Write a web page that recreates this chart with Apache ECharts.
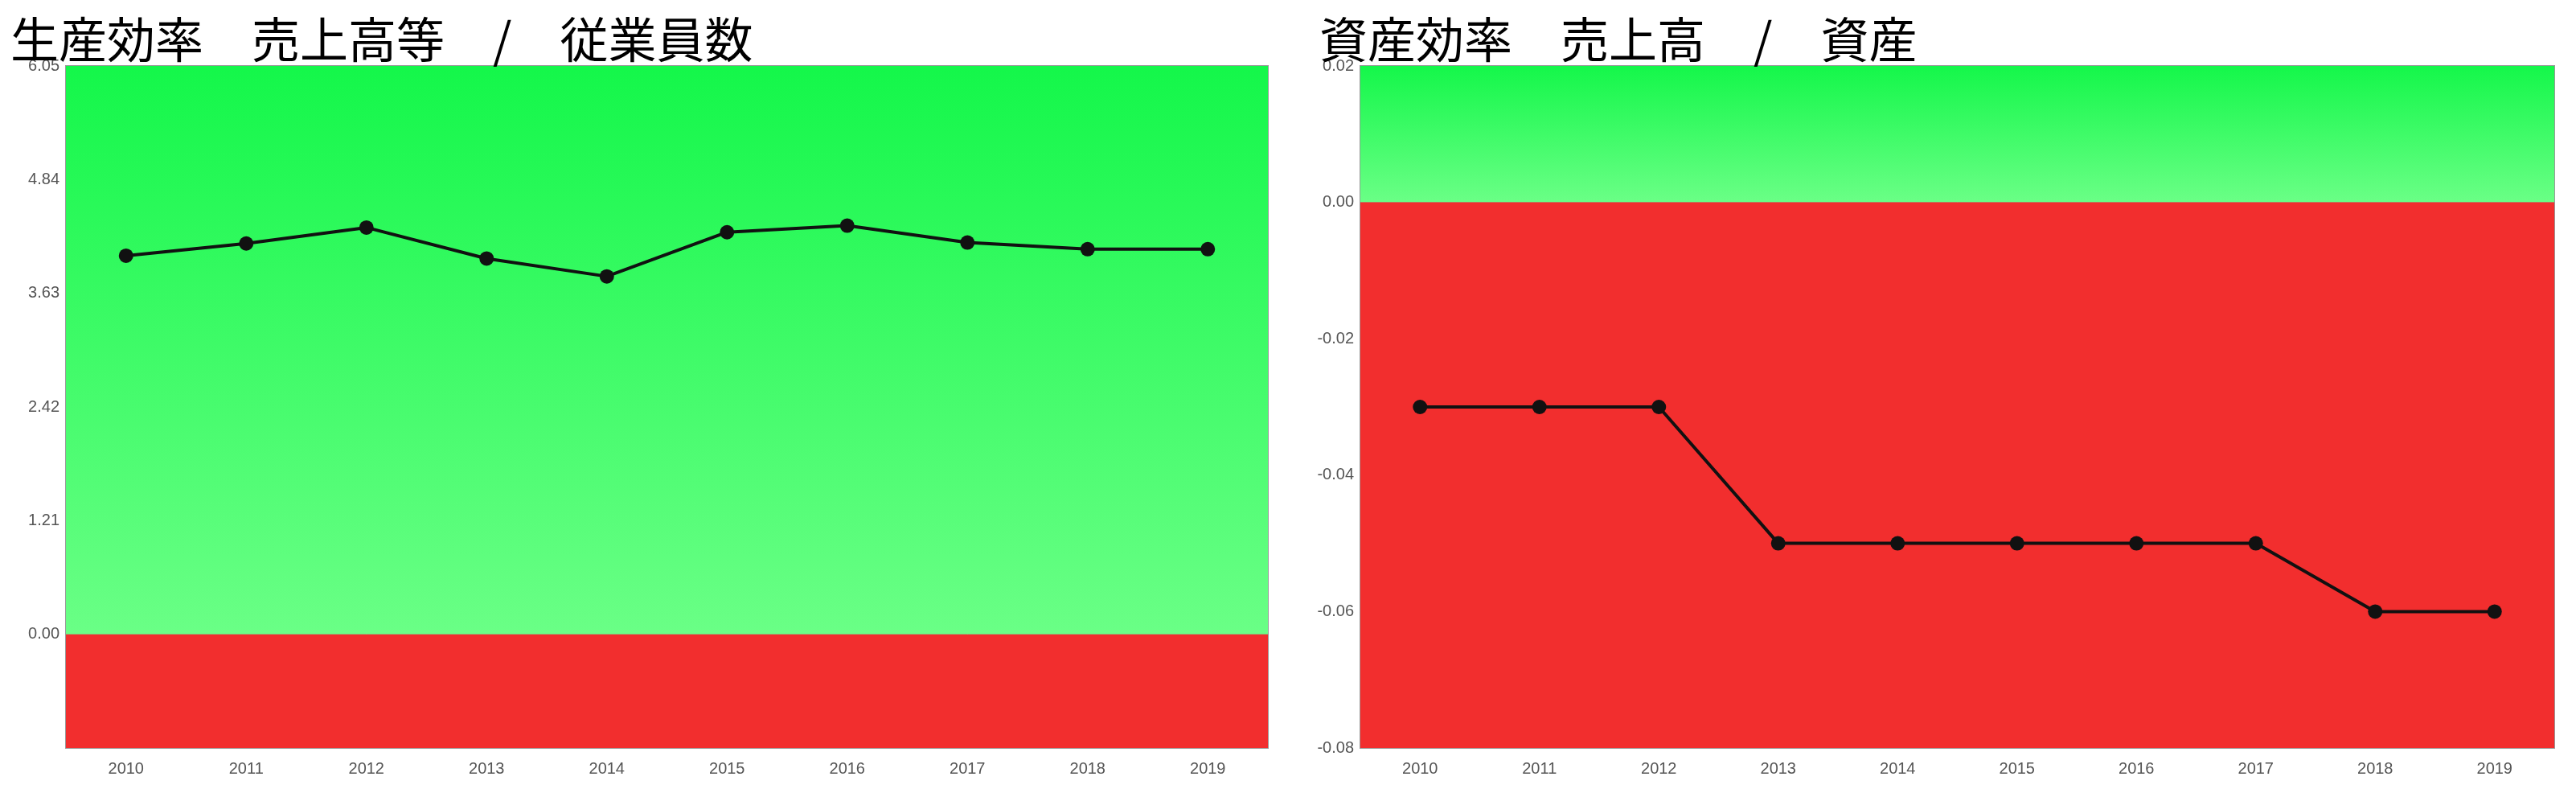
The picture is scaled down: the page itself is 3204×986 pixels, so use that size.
<!DOCTYPE html>
<html>
<head>
<meta charset="utf-8">
<script src="https://cdn.jsdelivr.net/npm/echarts@6/dist/echarts.min.js"></script>
<style>html,body{margin:0;padding:0;background:#fff}#chart{width:3204px;height:986px}</style>
</head>
<body>
<div id="chart"></div>
<script>
var years = ['2010', '2011', '2012', '2013', '2014', '2015', '2016', '2017', '2018', '2019'];
var laborValues = [4.03, 4.16, 4.33, 4.0, 3.81, 4.28, 4.35, 4.17, 4.10, 4.10];
var assetValues = [-0.03, -0.03, -0.03, -0.05, -0.05, -0.05, -0.05, -0.05, -0.06, -0.06];

var chart = echarts.init(document.getElementById('chart'));

var green = new echarts.graphic.LinearGradient(0, 0, 0, 1, [
  {offset: 0, color: '#14f74a'},
  {offset: 1, color: '#6aff86'}
]);

function bands(max, min) {
  return {
    silent: true,
    data: [
      [{yAxis: 0, itemStyle: {color: green}}, {yAxis: max}],
      [{yAxis: min, itemStyle: {color: '#f22e2e'}}, {yAxis: 0}]
    ]
  };
}

function xAxis(idx) {
  return {
    type: 'category', gridIndex: idx, data: years,
    axisLine: {lineStyle: {color: '#999'}},
    axisTick: {lineStyle: {color: '#999'}, length: 10},
    axisLabel: {color: '#555', fontSize: 20, margin: 16}
  };
}

function yAxis(idx, min, max, interval, digits) {
  return {
    type: 'value', gridIndex: idx, min: min, max: max, interval: interval,
    axisLine: {show: true, lineStyle: {color: '#999'}},
    splitLine: {show: false},
    axisLabel: {color: '#555', fontSize: 20, showMinLabel: idx === 1,
      formatter: function (v) { return v.toFixed(digits); }}
  };
}

function line(idx, data, area) {
  return {
    type: 'line', xAxisIndex: idx, yAxisIndex: idx, data: data,
    symbol: 'circle', symbolSize: 18,
    lineStyle: {color: '#111', width: 4},
    itemStyle: {color: '#111'},
    markArea: area,
    z: 5
  };
}

chart.setOption({
  animation: false,
  title: [
    {text: '生産効率　売上高等　/　従業員数', left: 8, top: 14,
      textStyle: {fontSize: 60, fontWeight: 'normal', color: '#000', fontFamily: 'Noto Sans CJK JP'}},
    {text: '資産効率　売上高　/　資産', left: 1636, top: 14,
      textStyle: {fontSize: 60, fontWeight: 'normal', color: '#000', fontFamily: 'Noto Sans CJK JP'}}
  ],
  grid: [
    {left: 82, top: 82, width: 1495, height: 848, show: true, borderColor: '#999', borderWidth: 2},
    {left: 1692, top: 82, width: 1485, height: 848, show: true, borderColor: '#999', borderWidth: 2}
  ],
  xAxis: [xAxis(0), xAxis(1)],
  yAxis: [yAxis(0, -1.21, 6.05, 1.21, 2), yAxis(1, -0.08, 0.02, 0.02, 2)],
  series: [
    line(0, laborValues, bands(6.05, -1.21)),
    line(1, assetValues, bands(0.02, -0.08))
  ]
});
</script>
</body>
</html>
